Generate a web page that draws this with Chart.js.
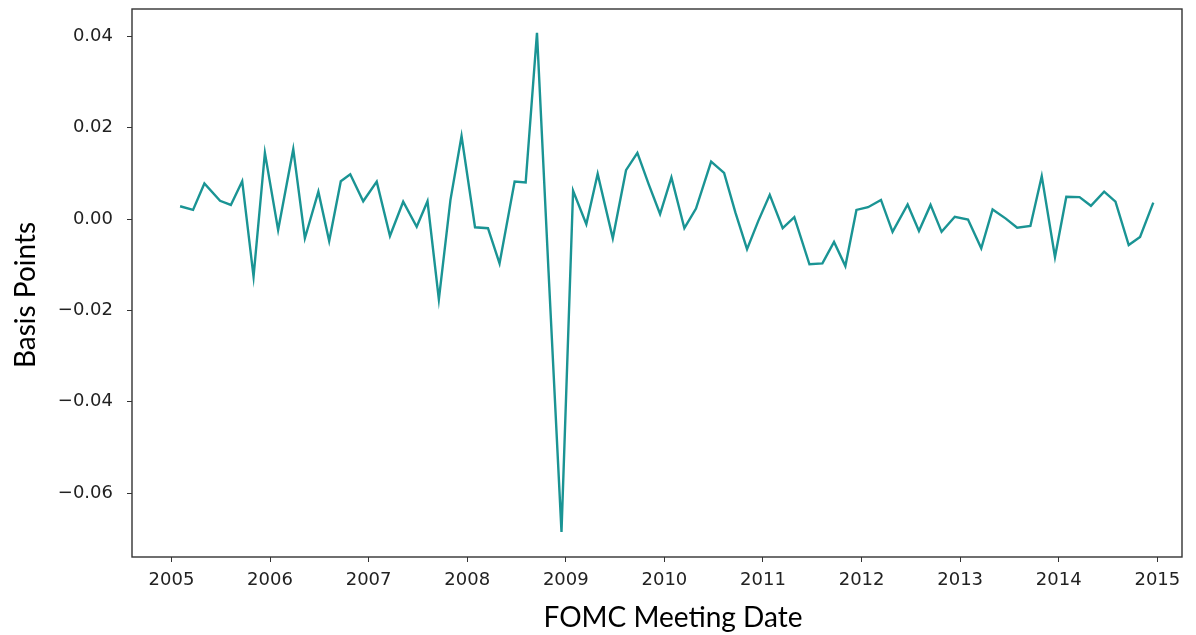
<!DOCTYPE html>
<html>
<head>
<meta charset="utf-8">
<script src="https://cdn.jsdelivr.net/npm/chart.js@4/dist/chart.umd.min.js"></script>
<style>
  html, body { margin: 0; padding: 0; background: #fff; }
  canvas { display: block; }
</style>
</head>
<body>
<canvas id="surpriseChart" width="1196" height="635"></canvas>
<script>
// FOMC meeting dates and the surprise series
const meetingDates = [
    '2005-02-02', '2005-03-22', '2005-05-03', '2005-06-30', '2005-08-09', '2005-09-20', '2005-11-01', '2005-12-13',
    '2006-01-31', '2006-03-28', '2006-05-10', '2006-06-29', '2006-08-08', '2006-09-20', '2006-10-25', '2006-12-12',
    '2007-01-31', '2007-03-21', '2007-05-09', '2007-06-28', '2007-08-07', '2007-09-18', '2007-10-31', '2007-12-11',
    '2008-01-30', '2008-03-18', '2008-04-30', '2008-06-25', '2008-08-05', '2008-09-16', '2008-10-29', '2008-12-16',
    '2009-01-28', '2009-03-18', '2009-04-29', '2009-06-24', '2009-08-12', '2009-09-23', '2009-11-04', '2009-12-16',
    '2010-01-27', '2010-03-16', '2010-04-28', '2010-06-23', '2010-08-10', '2010-09-21', '2010-11-03', '2010-12-14',
    '2011-01-26', '2011-03-15', '2011-04-27', '2011-06-22', '2011-08-09', '2011-09-21', '2011-11-02', '2011-12-13',
    '2012-01-25', '2012-03-13', '2012-04-25', '2012-06-20', '2012-08-01', '2012-09-13', '2012-10-24', '2012-12-12',
    '2013-01-30', '2013-03-20', '2013-05-01', '2013-06-19', '2013-07-31', '2013-09-18', '2013-10-30', '2013-12-18',
    '2014-01-29', '2014-03-19', '2014-04-30', '2014-06-18', '2014-07-30', '2014-09-17', '2014-10-29', '2014-12-17'
]

const basisPoints = [
    0.0028, 0.0020, 0.0078, 0.0040, 0.0031, 0.0083, -0.0126, 0.0145,
    -0.0024, 0.0153, -0.0042, 0.0060, -0.0048, 0.0083, 0.0098, 0.0039,
    0.0082, -0.0037, 0.0038, -0.0017, 0.0039, -0.0176, 0.0042, 0.0182,
    -0.0018, -0.0020, -0.0097, 0.0082, 0.0080, 0.0408, -0.0116, -0.0685,
    0.0062, -0.0011, 0.0099, -0.0042, 0.0107, 0.0145, 0.0076, 0.0011,
    0.0091, -0.0020, 0.0023, 0.0126, 0.0101, 0.0014, -0.0066, -0.0005,
    0.0053, -0.0020, 0.0004, -0.0099, -0.0097, -0.0050, -0.0103, 0.0020,
    0.0026, 0.0042, -0.0028, 0.0032, -0.0026, 0.0031, -0.0028, 0.0005,
    -0.0001, -0.0064, 0.0021, 0.0001, -0.0019, -0.0015, 0.0094, -0.0083,
    0.0049, 0.0048, 0.0029, 0.0060, 0.0038, -0.0057, -0.0039, 0.0036
]

const yearTicks = [2005, 2006, 2007, 2008, 2009, 2010, 2011, 2012, 2013, 2014, 2015]
const valueTicks = [-0.06, -0.04, -0.02, 0.00, 0.02, 0.04]

const xTitle = 'FOMC Meeting Date'
const yTitle = 'Basis Points'

// date string -> fractional year, so a linear axis can place it
function toYear(s) {
    const d = Date.parse(s + 'T00:00:00Z')
    const y = Number(s.slice(0, 4))
    const start = Date.UTC(y, 0, 1)
    const end = Date.UTC(y + 1, 0, 1)
    return y + (d - start) / (end - start)
}

const points = meetingDates.map((d, i) => ({ x: toYear(d), y: basisPoints[i] }))

// box round the plot plus the two axis labels (placed like the original)
const frame = {
    id: 'frame',
    afterDraw(chart) {
        const { ctx, chartArea: a } = chart
        ctx.save()
        ctx.strokeStyle = '#333'
        ctx.lineWidth = 1.4
        ctx.strokeRect(a.left, a.top, a.right - a.left, a.bottom - a.top)

        ctx.fillStyle = '#000'
        ctx.font = '28px Lato'
        ctx.textAlign = 'center'
        ctx.textBaseline = 'alphabetic'
        ctx.fillText(xTitle, (a.left + a.right) / 2 + 16, 627)

        ctx.translate(35, (a.top + a.bottom) / 2 + 12)
        ctx.rotate(-Math.PI / 2)
        ctx.fillText(yTitle, 0, 0)
        ctx.restore()
    }
}

const tickFont = { family: 'DejaVu Sans', size: 18 }

new Chart(document.querySelector('#surpriseChart'), {
    type: 'line',
    data: {
        datasets: [{
            data: points,
            borderColor: '#1a9494',
            borderWidth: 2.4,
            pointRadius: 0,
            fill: false,
            tension: 0
        }]
    },
    options: {
        responsive: false,
        animation: false,
        layout: { padding: { top: 9, right: 14, left: 0, bottom: 0 } },
        plugins: {
            legend: { display: false },
            tooltip: { enabled: false }
        },
        scales: {
            x: {
                type: 'linear',
                min: 2004.6,
                max: 2015.25,
                afterFit: s => {
                    s.height = 78
                    s.paddingLeft = 0
                    s.paddingRight = 0
                },
                afterBuildTicks: s => { s.ticks = yearTicks.map(v => ({ value: v })) },
                ticks: {
                    color: '#222',
                    font: tickFont,
                    padding: 8,
                    maxRotation: 0,
                    callback: v => String(v)
                },
                grid: { drawOnChartArea: false, drawTicks: true, tickLength: 5, color: '#333' },
                border: { display: false }
            },
            y: {
                min: -0.0740,
                max: 0.0460,
                afterFit: s => {
                    s.width = 132
                    s.paddingTop = 0
                    s.paddingBottom = 0
                },
                afterBuildTicks: s => { s.ticks = valueTicks.map(v => ({ value: v })) },
                ticks: {
                    color: '#222',
                    font: tickFont,
                    padding: 14,
                    callback: v => v.toFixed(2).replace('-', '\u2212')
                },
                grid: { drawOnChartArea: false, drawTicks: true, tickLength: 5, color: '#333' },
                border: { display: false }
            }
        }
    },
    plugins: [frame]
})
</script>
</body>
</html>
